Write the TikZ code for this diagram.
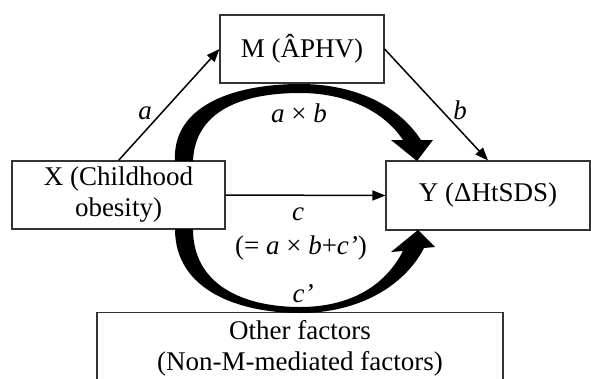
\documentclass[tikz,border=0pt]{standalone}
\usepackage{fontspec}
\setmainfont{Liberation Serif}
\usetikzlibrary{arrows.meta}
\begin{document}
\begin{tikzpicture}[x=1pt,y=-1pt,
  box/.style={draw=black!80, line width=1.1pt, inner sep=0pt, align=center, font=\fontsize{27}{31}\selectfont},
  lbl/.style={inner sep=0pt, font=\fontsize{27}{31}\selectfont},
  arr/.style={line width=1.5pt, -{Triangle[length=13pt,width=10pt]}},
  bigarrow/.style={fill=black, draw=none}]
\useasboundingbox (0,0) rectangle (591,378);
\node[box, minimum width=164pt, minimum height=68pt] (M) at (302,49) {M (ÂPHV)};
\node[box, minimum width=213pt, minimum height=68pt] (X) at (118.5,195) {X (Childhood\\obesity)};
\node[box, minimum width=204pt, minimum height=69pt] (Y) at (488,195.5) {Y (ΔHtSDS)};
\node[box, minimum width=406pt, minimum height=72pt] (O) at (300,348.5) {Other factors\\(Non-M-mediated factors)};
% thin arrows
\draw[arr] (X.north) -- (M.west);
\draw[arr] (M.east) -- (Y.north);
\draw[arr] (X.east) -- (Y.west);
% thick curved arrow (indirect effect)
\fill[bigarrow] (175,161) .. controls (172,105) and (235,84) .. (300,84)
  .. controls (355,84) and (398,105) .. (421,140) -- (433,140) -- (417,161) -- (391,140) -- (403,140)
  .. controls (383,110) and (345,93) .. (300,93)
  .. controls (240,93) and (195,112) .. (193,161) -- cycle;
% thick curved arrow (direct effect)
\fill[bigarrow] (175,229) .. controls (175,291) and (240,313) .. (300,313)
  .. controls (360,313) and (405,285) .. (424,248) -- (435,247) -- (418,230) -- (391,252) -- (403,251)
  .. controls (385,286) and (350,307) .. (300,307)
  .. controls (245,307) and (193,286) .. (193,229) -- cycle;
% labels
\node[lbl] (la) at (145,113) {\itshape a};
\node[lbl] (lab) at (299,113) {\itshape a\/ \upshape×\itshape\ b};
\node[lbl] (lb) at (460,110) {\itshape b};
\node[lbl] (lc) at (298,214) {\itshape c};
\node[lbl] (ltot) at (301,248) {(= \itshape a\/ \upshape× \itshape b\/\upshape+\itshape c’\upshape)};
\node[lbl] (lcp) at (303,294) {\itshape c’};
\end{tikzpicture}
\end{document}
